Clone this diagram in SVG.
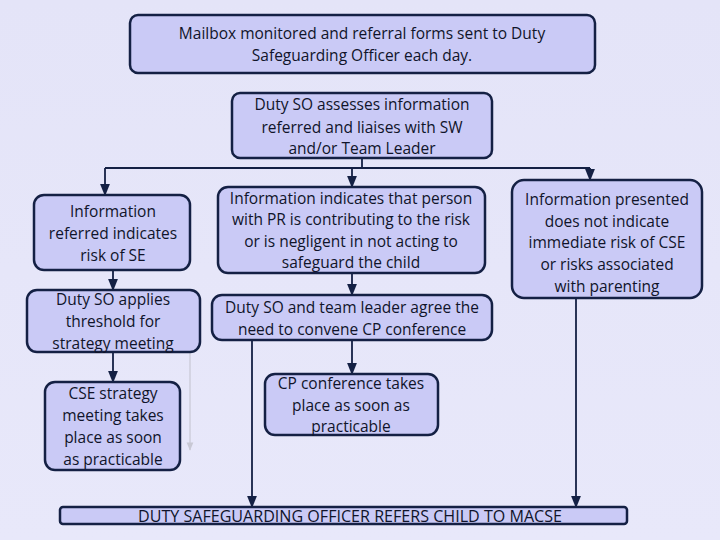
<svg xmlns="http://www.w3.org/2000/svg" width="720" height="540" viewBox="0 0 720 540">
<defs>
<linearGradient id="bg" x1="0" y1="0" x2="0" y2="1"><stop offset="0" stop-color="#e4e4f8"/><stop offset="1" stop-color="#e8e8fa"/></linearGradient>
<marker id="ah" viewBox="0 0 10 10" refX="9" refY="5" markerWidth="7" markerHeight="7" orient="auto"><path d="M0,1 L10,5 L0,9 z" fill="#142044"/></marker>
<marker id="ahg" viewBox="0 0 10 10" refX="9" refY="5" markerWidth="7" markerHeight="7" orient="auto"><path d="M0,1 L10,5 L0,9 z" fill="#c8c8d4"/></marker>
</defs>
<style>
.b{fill:#cacaf6;stroke:#142044;stroke-width:2.5}
.t{font-family:"Open Sans",sans-serif;font-size:15.5px;fill:#10142a;text-anchor:middle}
.c{stroke:#142044;stroke-width:1.8;fill:none;marker-end:url(#ah)}
.l{stroke:#142044;stroke-width:1.8;fill:none}
</style>
<rect width="720" height="540" fill="url(#bg)"/>
<g id="connectors">
<path class="l" d="M362,158 V168"/>
<path class="l" d="M105,168 H590"/>
<path class="c" d="M105,168 V195"/>
<path class="c" d="M352,168 V187"/>
<path class="c" d="M590,168 V180"/>
<path class="c" d="M113,270 V290"/>
<path class="c" d="M113,352 V382"/>
<path class="c" d="M352,273 V295"/>
<path class="c" d="M352,340 V374"/>
<path class="c" d="M252,340 V507"/>
<path class="c" d="M576,298 V507"/>
<path d="M190,340 V450" stroke="#c8c8d4" stroke-width="1.2" fill="none" marker-end="url(#ahg)"/>
</g>
<g id="n1"><rect class="b" x="130" y="15" width="465" height="58" rx="8"/>
<text class="t" x="362" y="39">Mailbox monitored and referral forms sent to Duty</text>
<text class="t" x="362" y="61">Safeguarding Officer each day.</text></g>
<g id="n2"><rect class="b" x="232" y="93" width="260" height="65" rx="8"/>
<text class="t" x="362" y="110">Duty SO assesses information</text>
<text class="t" x="362" y="133">referred and liaises with SW</text>
<text class="t" x="362" y="154">and/or Team Leader</text></g>
<g id="n3"><rect class="b" x="34" y="195" width="156" height="75" rx="10"/>
<text class="t" x="113" y="217">Information</text>
<text class="t" x="113" y="239">referred indicates</text>
<text class="t" x="113" y="261">risk of SE</text></g>
<g id="n4"><rect class="b" x="27" y="290" width="173" height="62" rx="10"/>
<text class="t" x="113" y="305">Duty SO applies</text>
<text class="t" x="113" y="327">threshold for</text>
<text class="t" x="113" y="349">strategy meeting</text></g>
<g id="n5"><rect class="b" x="45" y="382" width="135" height="88" rx="10"/>
<text class="t" x="113" y="399">CSE strategy</text>
<text class="t" x="113" y="421">meeting takes</text>
<text class="t" x="113" y="443">place as soon</text>
<text class="t" x="113" y="465">as practicable</text></g>
<g id="n6"><rect class="b" x="218" y="187" width="267" height="86" rx="10"/>
<text class="t" x="351" y="204">Information indicates that person</text>
<text class="t" x="351" y="225">with PR is contributing to the risk</text>
<text class="t" x="351" y="247">or is negligent in not acting to</text>
<text class="t" x="351" y="268">safeguard the child</text></g>
<g id="n7"><rect class="b" x="212" y="295" width="280" height="45" rx="10"/>
<text class="t" x="352" y="313">Duty SO and team leader agree the</text>
<text class="t" x="352" y="335">need to convene CP conference</text></g>
<g id="n8"><rect class="b" x="265" y="374" width="173" height="61" rx="10"/>
<text class="t" x="351" y="389">CP conference takes</text>
<text class="t" x="351" y="411">place as soon as</text>
<text class="t" x="351" y="432">practicable</text></g>
<g id="n9"><rect class="b" x="512" y="180" width="190" height="118" rx="12"/>
<text class="t" x="607" y="205">Information presented</text>
<text class="t" x="607" y="227">does not indicate</text>
<text class="t" x="607" y="248">immediate risk of CSE</text>
<text class="t" x="607" y="270">or risks associated</text>
<text class="t" x="607" y="292">with parenting</text></g>
<g id="n10"><rect class="b" x="60" y="507" width="567" height="17" rx="3"/>
<text class="t" x="138" y="522" style="text-anchor:start" textLength="424" lengthAdjust="spacingAndGlyphs">DUTY SAFEGUARDING OFFICER REFERS CHILD TO MACSE</text></g>
</svg>
